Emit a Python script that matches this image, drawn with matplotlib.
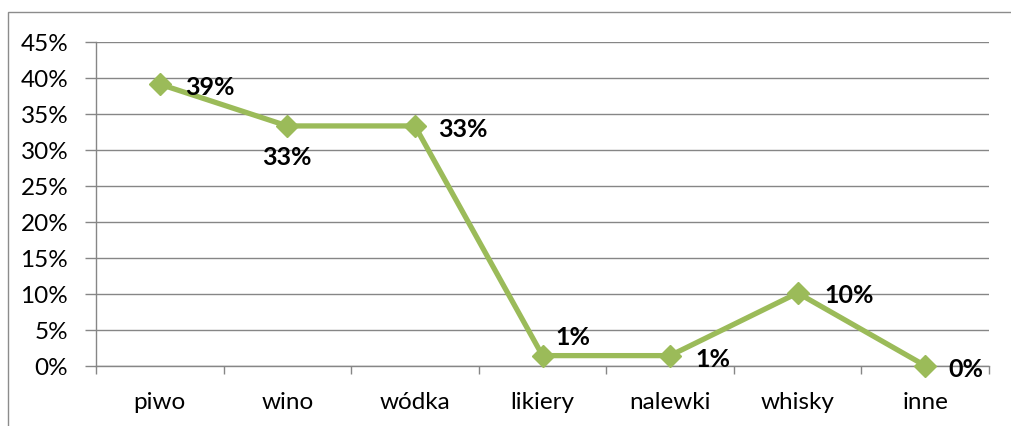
import matplotlib
matplotlib.use("Agg")
import matplotlib.pyplot as plt
from matplotlib.patches import Rectangle
import numpy as np

categories = ["piwo", "wino", "wódka", "likiery", "nalewki", "whisky", "inne"]
values = [39.1, 33.3, 33.3, 1.4, 1.4, 10.1, 0.0]
labels = ["39%", "33%", "33%", "1%", "1%", "10%", "0%"]
yticks = [0, 5, 10, 15, 20, 25, 30, 35, 40, 45]

W, H = 1011, 427
fig = plt.figure(figsize=(W / 100, H / 100), dpi=100)
plt.rcParams['font.family'] = ['Lato', 'DejaVu Sans']

# outer chart border (cut off at right and bottom)
fig.patches.append(Rectangle((8 / W, -0.1), 1.2, (H - 13) / H + 0.1, transform=fig.transFigure,
                             fill=False, edgecolor="#8c8c8c", linewidth=1.0))

left, right, top, bottom = 96, 989, 42.7, 366.7
ax = fig.add_axes([left / W, (H - bottom) / H, (right - left) / W, (bottom - top) / H])

x = np.arange(len(categories)) + 0.5
ax.plot(x, values, color="#9BBB59", linewidth=3.8, marker="D", markersize=11,
        markerfacecolor="#9BBB59", markeredgecolor="#9BBB59", zorder=3, clip_on=False)

ax.set_xlim(0, len(categories))
ax.set_ylim(0, 45)
ax.set_yticks(yticks)
ax.set_yticklabels([f"{t}%" for t in yticks], fontsize=17.5)
ax.set_xticks(np.arange(len(categories) + 1))
ax.set_xticklabels([])
ax.set_xticks(x, minor=True)
ax.set_xticklabels(categories, minor=True, fontsize=17.5)
ax.tick_params(axis="x", which="minor", length=0, pad=18)
ax.tick_params(axis="x", which="major", length=6, color="#868686", width=1)
ax.tick_params(axis="y", length=8, color="#868686", width=1, pad=12)
ax.grid(axis="y", color="#868686", linewidth=1)
ax.set_axisbelow(True)
for s in ["top", "right"]:
    ax.spines[s].set_visible(False)
for s in ["left", "bottom"]:
    ax.spines[s].set_color("#868686")
    ax.spines[s].set_linewidth(1)

# data labels (offsets in points)
offsets = [(18, -2), (0, -22), (17, -2), (9, 14), (18, -2), (19, -1), (17, -2)]
for xi, v, lab, (dx, dy) in zip(x, values, labels, offsets):
    ha = "center" if dx == 0 else "left"
    ax.annotate(lab, (xi, v), xytext=(dx, dy), textcoords="offset points",
                ha=ha, va="center", fontsize=18, fontweight="bold", color="black",
                annotation_clip=False)

fig.savefig("out.png", dpi=100)
